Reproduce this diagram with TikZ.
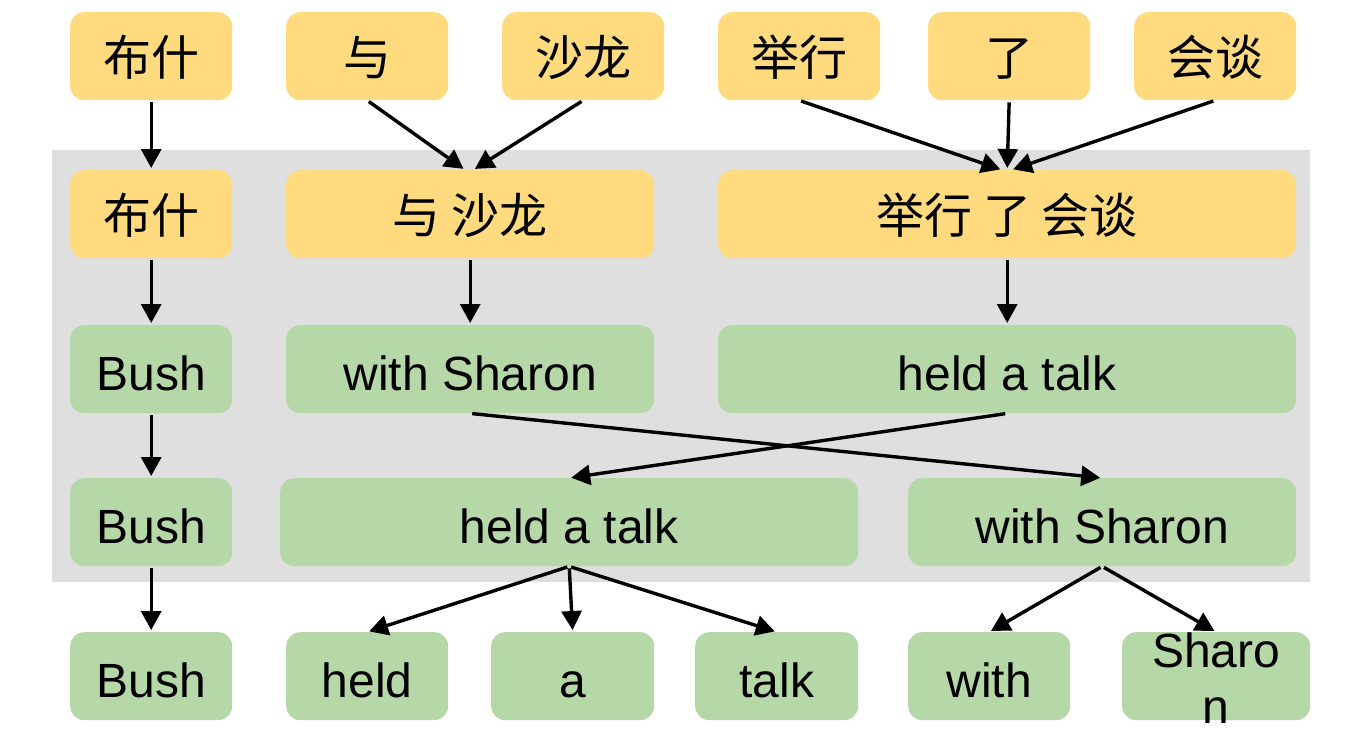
\documentclass[tikz,border=0pt]{standalone}
\usepackage{fontspec}
\setmainfont{Liberation Sans}
\newfontfamily\cjk{Noto Sans CJK SC}
\usetikzlibrary{arrows.meta}
\definecolor{yel}{HTML}{FFDA7F}
\definecolor{grn}{HTML}{B6D7A8}
\definecolor{bg}{HTML}{DFDFDF}
\tikzset{
  box/.style={rounded corners=14pt, inner sep=0pt, anchor=north west, draw=none},
  ybox/.style={box, fill=yel, font=\cjk\fontsize{48}{56}\selectfont, text height=63pt, text depth=25pt},
  gbox/.style={box, fill=grn, font=\fontsize{48}{56}\selectfont, text height=65pt, text depth=23pt},
  gtext/.style={anchor=base, inner sep=0pt, font=\fontsize{48}{56}\selectfont},
  arr/.style={-{Triangle[width=20pt,length=19pt]}, line width=3.4pt, shorten <=2pt, shorten >=2pt},
}
\begin{document}
\begin{tikzpicture}[x=1pt,y=-1pt]
\useasboundingbox (0,0) rectangle (1348,744);
\fill[bg] (52,150) rectangle (1310,582);
% row 1
\node[ybox, minimum width=162pt] (c1) at (70,12) {布什};
\node[ybox, minimum width=162pt] (yu) at (286,12) {与};
\node[ybox, minimum width=162pt] (sl) at (502,12) {沙龙};
\node[ybox, minimum width=162pt] (jx) at (718,12) {举行};
\node[ybox, minimum width=162pt] (le) at (928,12) {了};
\node[ybox, minimum width=162pt] (ht) at (1134,12) {会谈};
% row 2
\node[ybox, minimum width=162pt] (c2) at (70,170) {布什};
\node[ybox, minimum width=368pt] (ys) at (286,170) {与 沙龙};
\node[ybox, minimum width=578pt] (jlh) at (718,170) {举行 了 会谈};
% row 3
\node[gbox, minimum width=162pt] (b3) at (70,325) {Bush};
\node[gbox, minimum width=368pt] (ws3) at (286,325) {with Sharon};
\node[gbox, minimum width=578pt] (ht3) at (718,325) {held a talk};
% row 4
\node[gbox, minimum width=162pt] (b4) at (70,478) {Bush};
\node[gbox, minimum width=578pt] (ht4) at (280,478) {held a talk};
\node[gbox, minimum width=388pt] (ws4) at (908,478) {with Sharon};
% row 5
\node[gbox, minimum width=162pt] (b5) at (70,632) {Bush};
\node[gbox, minimum width=162pt] (held) at (286,632) {held};
\node[gbox, minimum width=163pt] (a) at (491,632) {a};
\node[gbox, minimum width=163pt] (talk) at (695,632) {talk};
\node[gbox, minimum width=162pt] (with) at (908,632) {with};
\node[gbox, minimum width=188pt] (sharon) at (1122,632) {\phantom{n}};
\node[gtext] (sharon1) at ([yshift=-35pt]sharon.north) {Sharo};
\node[gtext] (sharon2) at ([yshift=-91pt]sharon.north) {n};
% arrows
\draw[arr] (c1.south) -- (c2.north);
\draw[arr] (yu.south) -- ([xshift=-5pt]ys.north);
\draw[arr] (sl.south) -- ([xshift=3pt]ys.north);
\draw[arr] (jx.south) -- ([xshift=-5pt]jlh.north);
\draw[arr] (le.south) -- (jlh.north);
\draw[arr] (ht.south) -- ([xshift=4pt]jlh.north);
\draw[arr] (c2.south) -- (b3.north);
\draw[arr] (ys.south) -- (ws3.north);
\draw[arr] (jlh.south) -- (ht3.north);
\draw[arr] (b3.south) -- (b4.north);
\draw[arr] (ws3.south) -- (ws4.north);
\draw[arr] (ht3.south) -- (ht4.north);
\draw[arr] (b4.south) -- (b5.north);
\draw[arr] (ht4.south) -- (held.north);
\draw[arr] (ht4.south) -- (a.north);
\draw[arr] (ht4.south) -- (talk.north);
\draw[arr] (ws4.south) -- (with.north);
\draw[arr] (ws4.south) -- (sharon.north);
\end{tikzpicture}
\end{document}
